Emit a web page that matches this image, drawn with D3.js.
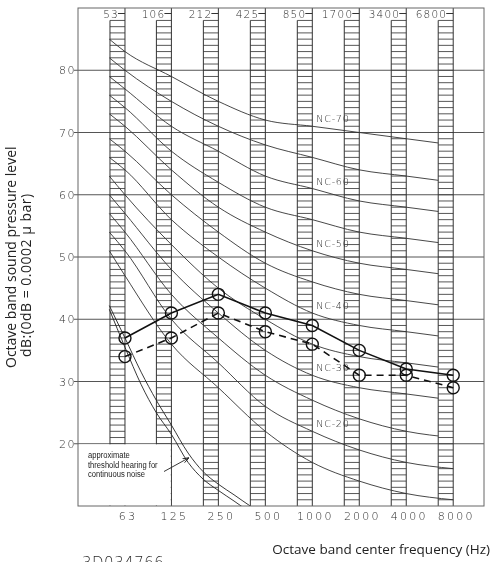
<!DOCTYPE html>
<html>
<head>
<meta charset="utf-8">
<script src="https://cdn.jsdelivr.net/npm/d3@7"></script>
<style>
  body { margin: 0; background: #fff; }
  svg { display: block; will-change: transform; }
  .num { font-family: "DejaVu Sans", sans-serif; font-weight: 200; fill: #2a2a2a; }
  .title { font-family: "Open Sans", sans-serif; fill: #222; }
  .note { font-family: "Liberation Sans", sans-serif; fill: #222; }
</style>
</head>
<body>
<svg id="chart" width="492" height="562"></svg>
<script>
// Octave bands (preferred centres along the bottom, older band centres along the top)
const bandCenters = [63, 125, 250, 500, 1000, 2000, 4000, 8000];
const bandLabels = ["63", "125", "250", "500", "1000", "2000", "4000", "8000"];
const oldBandLabels = ["53", "106", "212", "425", "850", "1700", "3400", "6800"];
const levelTicks = [20, 30, 40, 50, 60, 70, 80];

// Noise criterion curves, dB per octave band
const ncRatings = [70, 65, 60, 55, 50, 45, 40, 35, 30, 25, 20, 15];
const nc70 = [83, 79, 75, 72, 71, 70, 69, 68];
const nc65 = [80, 75, 71, 68, 66, 64, 63, 62];
const nc60 = [77, 71, 67, 63, 61, 59, 58, 57];
const nc55 = [74, 67, 62, 58, 56, 54, 53, 52];
const nc50 = [71, 64, 58, 54, 51, 49, 48, 47];
const nc45 = [67, 60, 54, 49, 46, 44, 43, 42];
const nc40 = [64, 56, 50, 45, 41, 39, 38, 37];
const nc35 = [60, 52, 45, 40, 36, 34, 33, 32];
const nc30 = [57, 48, 41, 35, 31, 29, 28, 27];
const nc25 = [54, 44, 37, 31, 27, 24, 22, 21];
const nc20 = [51, 40, 33, 26, 22, 19, 17, 16];
const nc15 = [47, 36, 29, 22, 17, 14, 12, 11];
// where each curve begins, at the lower edge of the first band
const ncStartFreq = 50;
const ncStartLevels = [85, 82, 79, 76, 73, 69, 66, 63, 60, 57, 54, 51];
const ncLabelled = [70, 60, 50, 40, 30, 20];
const ncFullLength = [20, 15];

// Approximate threshold of hearing for continuous noise (drawn as a double line)
const thresholdFreqs = [50, 63, 80, 100, 125, 160, 200, 250, 315, 400, 500];
const thresholdLower = [41.6, 35.5, 29.5, 25, 21.5, 17, 14.3, 12.5, 10.8, 9, 7.5];
const thresholdUpper = [42.2, 37, 31.5, 27, 23, 18.5, 15.5, 13.5, 11.8, 10, 8.5];

// Measured spectra
const spectrumSolid = [37, 41, 44, 41, 39, 35, 32, 31];
const spectrumDashed = [34, 37, 41, 38, 36, 31, 31, 29];

const ncTable = [nc70, nc65, nc60, nc55, nc50, nc45, nc40, nc35, nc30, nc25, nc20, nc15];

const svg = d3.select("#chart");
const frame = { left: 78, right: 484, top: 8, bottom: 506 };
const colW = 15;
const hatchTop = 88;

const x = d3.scaleLog().domain([31.5, 12600]).range([frame.left, frame.right]);
const y = d3.scaleLinear().domain([10, 90]).range([frame.bottom, frame.top]);

svg.append("defs").call(d => {
  d.append("clipPath").attr("id", "plotClip")
    .append("rect").attr("x", frame.left).attr("y", frame.top)
    .attr("width", frame.right - frame.left).attr("height", frame.bottom - frame.top);
  d.append("clipPath").attr("id", "shortClip")
    .append("rect").attr("x", frame.left).attr("y", frame.top)
    .attr("width", x(8000) - colW - frame.left).attr("height", frame.bottom - frame.top);
  d.append("marker").attr("id", "arrowHead").attr("viewBox", "0 0 10 10")
    .attr("refX", 9).attr("refY", 5).attr("markerWidth", 7).attr("markerHeight", 7)
    .attr("orient", "auto")
    .append("path").attr("d", "M0,1.5 L10,5 L0,8.5").attr("fill", "none").attr("stroke", "#222").attr("stroke-width", 1.4);
});

// horizontal grid with left ticks
svg.append("g").selectAll("line").data(levelTicks).join("line")
  .attr("x1", frame.left - 4).attr("x2", frame.right)
  .attr("y1", d => y(d)).attr("y2", d => y(d))
  .attr("stroke", "#555").attr("stroke-width", 1);

svg.append("g").selectAll("text").data(levelTicks).join("text")
  .attr("class", "num").attr("font-size", 11).attr("letter-spacing", 1.5)
  .attr("x", frame.left - 2).attr("y", d => y(d) + 4)
  .attr("text-anchor", "end").text(d => d);

// hatched octave-band columns
const cols = svg.append("g");
bandCenters.forEach(f => {
  const xr = x(f), xl = xr - colW;
  const g = cols.append("g");
  g.selectAll("line.h").data(d3.range(11, hatchTop + 1)).join("line")
    .attr("x1", xl).attr("x2", xr)
    .attr("y1", d => y(d)).attr("y2", d => y(d))
    .attr("stroke", "#444").attr("stroke-width", 0.9);
  g.append("line").attr("x1", xl).attr("x2", xl).attr("y1", y(hatchTop)).attr("y2", frame.bottom)
    .attr("stroke", "#333").attr("stroke-width", 1);
  g.append("line").attr("x1", xr).attr("x2", xr).attr("y1", frame.top).attr("y2", frame.bottom)
    .attr("stroke", "#333").attr("stroke-width", 1);
});

// older band centres along the top, each with a short lead to its band edge
svg.append("g").selectAll("g").data(bandCenters).join("g").each(function (f, i) {
  const g = d3.select(this);
  g.append("text").attr("class", "num").attr("font-size", 10.5).attr("letter-spacing", 1.2)
    .attr("x", x(f) - 6).attr("y", 17.5).attr("text-anchor", "end").text(oldBandLabels[i]);
  g.append("line").attr("x1", x(f) - 7).attr("x2", x(f)).attr("y1", 13.5).attr("y2", 13.5)
    .attr("stroke", "#333").attr("stroke-width", 1);
});

// NC curves
const ncLine = d3.line().x(d => x(d[0])).y(d => y(d[1])).curve(d3.curveMonotoneX);
const curves = svg.append("g");
ncRatings.forEach((nc, i) => {
  const pts = [[ncStartFreq, ncStartLevels[i]]].concat(bandCenters.map((f, j) => [f, ncTable[i][j]]));
  curves.append("path").attr("d", ncLine(pts))
    .attr("clip-path", ncFullLength.includes(nc) ? "url(#plotClip)" : "url(#shortClip)")
    .attr("fill", "none").attr("stroke", "#333").attr("stroke-width", 0.9);
});

svg.append("g").selectAll("text").data(ncLabelled).join("text")
  .attr("class", "num").attr("font-size", 9.5).attr("letter-spacing", 0.8)
  .attr("x", x(1000) + 4)
  .attr("y", d => y(ncTable[ncRatings.indexOf(d)][4]) - 4)
  .text(d => "NC-" + d);

// note box in the lower-left corner
svg.append("rect").attr("x", frame.left + 0.5).attr("y", y(20) + 0.6)
  .attr("width", x(125) - frame.left - 1.2).attr("height", frame.bottom - y(20) - 1.1)
  .attr("fill", "#fff");

const note = svg.append("g").attr("transform", "translate(88,0) scale(0.8,1)")
  .append("text").attr("class", "note").attr("font-size", 9.5);
["approximate", "threshold hearing for", "continuous noise"].forEach((t, i) => {
  note.append("tspan").attr("x", 0).attr("y", 458 + i * 9.6).text(t);
});

// threshold of hearing double line
const thLine = d3.line().x((d, i) => x(thresholdFreqs[i])).y(d => y(d)).curve(d3.curveMonotoneX);
[thresholdLower, thresholdUpper].forEach(s => {
  svg.append("path").attr("d", thLine(s)).attr("clip-path", "url(#plotClip)")
    .attr("fill", "none").attr("stroke", "#222").attr("stroke-width", 0.9);
});

svg.append("line").attr("x1", 164).attr("y1", 471.5).attr("x2", 188.5).attr("y2", 458)
  .attr("stroke", "#222").attr("stroke-width", 0.9).attr("marker-end", "url(#arrowHead)");

// measured spectra
const specLine = d3.line().x((d, i) => x(bandCenters[i])).y(d => y(d));
svg.append("path").attr("d", specLine(spectrumSolid))
  .attr("fill", "none").attr("stroke", "#111").attr("stroke-width", 1.6);
svg.append("path").attr("d", specLine(spectrumDashed))
  .attr("fill", "none").attr("stroke", "#111").attr("stroke-width", 1.6).attr("stroke-dasharray", "7,5");

[spectrumSolid, spectrumDashed].forEach(s => {
  svg.append("g").selectAll("circle").data(s).join("circle")
    .attr("cx", (d, i) => x(bandCenters[i])).attr("cy", d => y(d)).attr("r", 6)
    .attr("fill", "none").attr("stroke", "#111").attr("stroke-width", 1.4);
});

// frame
svg.append("rect").attr("x", frame.left).attr("y", frame.top)
  .attr("width", frame.right - frame.left).attr("height", frame.bottom - frame.top)
  .attr("fill", "none").attr("stroke", "#666").attr("stroke-width", 1);

// band centre labels
svg.append("g").selectAll("text").data(bandCenters).join("text")
  .attr("class", "num").attr("font-size", 11).attr("letter-spacing", 2.2)
  .attr("x", f => x(f) + 3).attr("y", 520).attr("text-anchor", "middle")
  .text((f, i) => bandLabels[i]);

// axis titles
svg.append("text").attr("class", "title").attr("font-size", 13.5)
  .attr("x", 490).attr("y", 554).attr("text-anchor", "end")
  .text("Octave band center frequency (Hz)");

const yTitle = svg.append("g").attr("transform", "translate(0,368) rotate(-90)");
yTitle.append("text").attr("class", "title").attr("font-size", 14)
  .attr("x", 0).attr("y", 16)
  .text("Octave band sound pressure level");
yTitle.append("text").attr("class", "title").attr("font-size", 14).attr("letter-spacing", 0.5)
  .attr("x", 11).attr("y", 31)
  .text("dB:(0dB = 0.0002 \u00b5 bar)");

svg.append("text").attr("class", "num").attr("font-size", 15).attr("letter-spacing", 0.5)
  .attr("x", 82).attr("y", 568).text("3D034766");
</script>
</body>
</html>
